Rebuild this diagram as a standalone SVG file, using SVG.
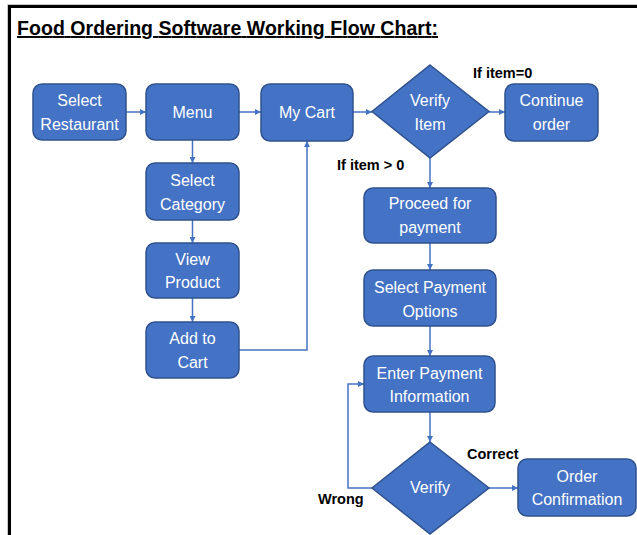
<svg xmlns="http://www.w3.org/2000/svg" width="637" height="535" viewBox="0 0 637 535">
<style>
.box{fill:#4472C4;stroke:#2F528F;stroke-width:1.5}
.t{fill:#fff;font-family:"Liberation Sans",Arial,sans-serif;font-size:16px;text-anchor:middle}
.lbl{fill:#000;font-family:"Liberation Sans",Arial,sans-serif;font-size:14.5px;font-weight:bold}
.c{fill:none;stroke:#4472C4;stroke-width:1.5;marker-end:url(#ah)}
</style>
<defs>
<marker id="ah" viewBox="0 0 10 10" refX="10" refY="5" markerWidth="6" markerHeight="6" markerUnits="userSpaceOnUse" orient="auto">
<path d="M0,0 L10,5 L0,10 z" fill="#4472C4"/>
</marker>
</defs>
<rect width="637" height="535" fill="#fff"/>
<path d="M7.5,535 V4.5 H637" fill="none" stroke="#c8c8c8" stroke-width="1"/>
<path d="M9.5,535 V6.5 H637" fill="none" stroke="#000" stroke-width="3"/>
<text x="17" y="35" font-family="'Liberation Sans',Arial,sans-serif" font-size="19.5" font-weight="bold" text-decoration="underline" textLength="421" fill="#000">Food Ordering Software Working Flow Chart:</text>

<g id="connectors">
<path class="c" d="M126,112 H146"/>
<path class="c" d="M239,112 H261"/>
<path class="c" d="M353,112 H372"/>
<path class="c" d="M489,112 H505"/>
<path class="c" d="M192.5,140 V163"/>
<path class="c" d="M192.5,220 V243"/>
<path class="c" d="M192.5,298 V322"/>
<path class="c" d="M239,350 H307 V141"/>
<path class="c" d="M430,158 V188"/>
<path class="c" d="M430,243 V270"/>
<path class="c" d="M430,326 V356"/>
<path class="c" d="M430,412 V442"/>
<path class="c" d="M489,488 H518"/>
<path class="c" d="M372,488 H348 V384 H364"/>
</g>

<g id="select-restaurant"><rect class="box" x="33" y="84" width="93" height="56" rx="9"/><text class="t" x="79.5" y="106">Select</text><text class="t" x="79.5" y="130">Restaurant</text></g>
<g id="menu"><rect class="box" x="146" y="84" width="93" height="56" rx="9"/><text class="t" x="192.5" y="118">Menu</text></g>
<g id="my-cart"><rect class="box" x="261" y="84" width="92" height="57" rx="9"/><text class="t" x="307" y="118">My Cart</text></g>
<g id="verify-item"><polygon class="box" points="430,65 489,111.5 430,158 372,111.5"/><text class="t" x="430" y="106">Verify</text><text class="t" x="430" y="130">Item</text></g>
<g id="continue-order"><rect class="box" x="505" y="84" width="93" height="57" rx="9"/><text class="t" x="551.5" y="106">Continue</text><text class="t" x="551.5" y="130">order</text></g>
<g id="select-category"><rect class="box" x="146" y="163" width="93" height="57" rx="9"/><text class="t" x="192.5" y="186">Select</text><text class="t" x="192.5" y="210">Category</text></g>
<g id="view-product"><rect class="box" x="146" y="243" width="93" height="55" rx="9"/><text class="t" x="192.5" y="265">View</text><text class="t" x="192.5" y="288">Product</text></g>
<g id="add-to-cart"><rect class="box" x="146" y="322" width="93" height="56" rx="9"/><text class="t" x="192.5" y="344">Add to</text><text class="t" x="192.5" y="368">Cart</text></g>
<g id="proceed-payment"><rect class="box" x="364" y="188" width="132" height="55" rx="9"/><text class="t" x="430" y="209">Proceed for</text><text class="t" x="430" y="233">payment</text></g>
<g id="select-payment"><rect class="box" x="364" y="270" width="132" height="56" rx="9"/><text class="t" x="430" y="293">Select Payment</text><text class="t" x="430" y="317">Options</text></g>
<g id="enter-payment"><rect class="box" x="364" y="356" width="131" height="56" rx="9"/><text class="t" x="429.5" y="379">Enter Payment</text><text class="t" x="429.5" y="402">Information</text></g>
<g id="verify"><polygon class="box" points="430,442 489,488 430,534 372,488"/><text class="t" x="430" y="493">Verify</text></g>
<g id="order-confirmation"><rect class="box" x="518" y="459" width="118" height="57" rx="9"/><text class="t" x="577" y="482">Order</text><text class="t" x="577" y="505">Confirmation</text></g>

<g id="labels">
<text class="lbl" x="473" y="78">If item=0</text>
<text class="lbl" x="337" y="170">If item &gt; 0</text>
<text class="lbl" x="467" y="459">Correct</text>
<text class="lbl" x="318" y="504">Wrong</text>
</g>
</svg>
